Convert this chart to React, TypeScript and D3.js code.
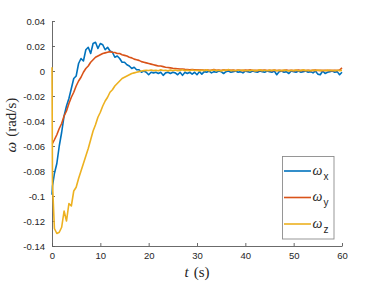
import { useRef, useEffect } from 'react';
import * as d3 from 'd3';

// sample times (s)
const time = [
  0, 0.1,
  0.5, 1, 1.5, 2, 2.5, 3, 3.5, 4, 4.5, 5,
  5.5, 6, 6.5, 7, 7.5, 8, 8.5, 9, 9.5, 10,
  10.5, 11, 11.5, 12, 12.5, 13, 13.5, 14, 14.5, 15,
  15.5, 16, 16.5, 17, 17.5, 18, 18.5, 19, 19.5, 20,
  20.5, 21, 21.5, 22, 22.5, 23, 23.5, 24, 24.5, 25,
  25.5, 26, 26.5, 27, 27.5, 28, 28.5, 29, 29.5, 30,
  30.5, 31, 31.5, 32, 32.5, 33, 33.5, 34, 34.5, 35,
  35.5, 36, 36.5, 37, 37.5, 38, 38.5, 39, 39.5, 40,
  40.5, 41, 41.5, 42, 42.5, 43, 43.5, 44, 44.5, 45,
  45.5, 46, 46.5, 47, 47.5, 48, 48.5, 49, 49.5, 50,
  50.5, 51, 51.5, 52, 52.5, 53, 53.5, 54, 54.5, 55,
  55.5, 56, 56.5, 57, 57.5, 58, 58.5, 59, 59.5, 60,
];

const omegaX = [
  -0.099, -0.092,
  -0.082, -0.074, -0.060, -0.049, -0.036, -0.028, -0.022, -0.014, -0.006, -0.004,
  0.006, 0.010, 0.008, 0.017, 0.019, 0.014, 0.022, 0.023, 0.018, 0.022,
  0.021, 0.017, 0.019, 0.016, 0.015, 0.011, 0.012, 0.010, 0.007, 0.007,
  0.005, 0.004, 0.002, 0.003, 0.001, 0.001, -0.001, 0.000, -0.001, -0.003,
  -0.001, -0.0015, -0.001, -0.002, -0.001, -0.0035, -0.0015, -0.001, -0.002, -0.001,
  -0.0015, -0.003, -0.001, -0.0035, -0.001, -0.002, -0.001, -0.0025, -0.001, -0.003,
  -0.0005, -0.0025, -0.0005, -0.001, 0, -0.0015, -0.0005, -0.001, 0, -0.0005,
  -0.002, -0.0005, 0, -0.001, -0.0005, 0, -0.001, -0.0005, -0.0015, 0,
  -0.0005, -0.001, 0, -0.0005, -0.001, 0, -0.0005, -0.001, 0, -0.0005,
  -0.001, 0, -0.003, -0.0005, 0, -0.001, -0.0005, -0.002, 0, -0.0005,
  -0.001, 0, -0.001, -0.0005, 0, -0.001, -0.0005, -0.0015, 0, -0.0025,
  -0.003, 0, -0.002, -0.001, -0.0005, 0, -0.001, -0.0005, -0.003, -0.001,
];

const omegaY = [
  -0.058, -0.058,
  -0.055, -0.051, -0.046, -0.042, -0.036, -0.032, -0.026, -0.021, -0.017, -0.012,
  -0.008, -0.005, -0.001, 0.002, 0.004, 0.007, 0.009, 0.011, 0.012, 0.013,
  0.014, 0.0145, 0.015, 0.0155, 0.015, 0.0148, 0.014, 0.014, 0.013, 0.0125,
  0.012, 0.011, 0.0105, 0.0095, 0.009, 0.0085, 0.0075, 0.007, 0.0065, 0.006,
  0.0055, 0.005, 0.0045, 0.004, 0.004, 0.0035, 0.003, 0.0028, 0.0025, 0.0022,
  0.002, 0.0018, 0.0016, 0.0015, 0.0013, 0.0012, 0.001, 0.0011, 0.0009, 0.001,
  0.0007, 0.001, 0.0006, 0.0009, 0.0005, 0.0008, 0.0012, 0.0006, 0.0008, 0.0004,
  0.0009, 0.0006, 0.001, 0.0005, 0.0007, 0.0004, 0.0008, 0.0006, 0.0003, 0.0007,
  0.0005, 0.0009, 0.0004, 0.0006, 0.0003, 0.0007, 0.0005, 0.0008, 0.0004, 0.0006,
  0.0003, 0.0007, 0.0004, 0.0006, 0.0003, 0.0005, 0.0008, 0.0004, 0.0006, 0.0003,
  0.0005, 0.0007, 0.0003, 0.0005, 0.0004, 0.0006, 0.0003, 0.0005, 0.0007, 0.0004,
  0.0005, 0.0003, 0.0006, 0.0004, 0.0005, 0.0003, 0.0006, 0.0004, 0.0008, 0.0025,
];

const omegaZ = [
  0.003, -0.09,
  -0.126, -0.130, -0.129, -0.125, -0.112, -0.120, -0.106, -0.108, -0.096, -0.093,
  -0.086, -0.080, -0.074, -0.068, -0.062, -0.055, -0.048, -0.043, -0.037, -0.033,
  -0.028, -0.024, -0.021, -0.017, -0.015, -0.012, -0.010, -0.008, -0.006, -0.005,
  -0.004, -0.003, -0.002, -0.0015, -0.001, -0.0005, 0, 0.0003, 0.0005, 0.0004,
  0.0008, 0.0003, 0.0006, 0.0002, 0.0009, 0.0004, 0.0006, 0.0001, 0.0007, 0.0003,
  0.0008, 0.0002, 0.0005, 0.001, 0.0003, 0.0006, 0.0002, 0.0008, 0.0004, 0.0006,
  0.0001, 0.0007, 0.0003, 0.0009, 0.0002, 0.0005, 0.0008, 0.0003, 0.0006, 0.0001,
  0.0007, 0.0004, 0.0012, 0.0003, 0.0006, 0.0002, 0.0008, 0.0004, 0.0007, 0.0002,
  0.0006, 0.0003, 0.0008, 0.0001, 0.0005, 0.0009, 0.0003, 0.0006, 0.0002, 0.0007,
  0.0004, 0.0008, 0.0002, 0.0006, 0.0003, 0.0007, 0.0004, 0.0001, 0.0006, 0.0003,
  0.0008, 0.0002, 0.0005, 0.0009, 0.0003, 0.0006, 0.0002, 0.0007, 0.0004, 0.0008,
  0.0003, 0.0006, 0.0002, 0.0007, 0.0004, 0.0005, 0.0002, 0.0006, 0.0003, 0.0005,
];

const xTicks = [0, 10, 20, 30, 40, 50, 60];
const yTicks = [-0.14, -0.12, -0.1, -0.08, -0.06, -0.04, -0.02, 0, 0.02, 0.04];

const seriesNames = ['x', 'y', 'z'];
const seriesColors = ['#0072BD', '#D95319', '#EDB120'];

const App = () => {
  const svgRef = useRef<SVGSVGElement>(null);

  useEffect(() => {
    const svg = d3.select(svgRef.current);
    svg.selectAll('*').remove();

    const margin = { top: 21, right: 35, bottom: 37, left: 52 };
    const width = 377;
    const height = 283;

    const x = d3.scaleLinear()
      .domain([0, 60])
      .range([margin.left, width - margin.right]);

    const y = d3.scaleLinear()
      .domain([-0.14, 0.04])
      .range([height - margin.bottom, margin.top]);

    const axisColor = '#262626';
    const tickFont = '"Liberation Sans", Arial, sans-serif';

    const xAxis = svg.append('g')
      .attr('transform', `translate(0,${height - margin.bottom})`)
      .call(d3.axisBottom(x).tickValues(xTicks).tickSizeInner(-3).tickSizeOuter(0).tickPadding(6));

    const yAxis = svg.append('g')
      .attr('transform', `translate(${margin.left},0)`)
      .call(d3.axisLeft(y).tickValues(yTicks).tickSizeInner(-3).tickSizeOuter(0).tickPadding(7)
        .tickFormat(d => String(+(+d).toFixed(2))));

    [xAxis, yAxis].forEach(g => {
      g.select('.domain').attr('stroke', '#5a5a5a').attr('stroke-width', 0.9);
      g.selectAll('.tick line').attr('stroke', '#5a5a5a').attr('stroke-width', 0.9);
      g.selectAll('.tick text')
        .attr('fill', axisColor)
        .style('font-family', tickFont)
        .style('font-size', '9.5px');
    });

    const line = d3.line<number>()
      .x((_, i) => x(time[i]))
      .y(d => y(d));

    [omegaX, omegaY, omegaZ].forEach((values, k) => {
      svg.append('path')
        .datum(values)
        .attr('fill', 'none')
        .attr('stroke', seriesColors[k])
        .attr('stroke-width', 1.6)
        .attr('stroke-linejoin', 'round')
        .attr('d', line);
    });

    // axis labels
    const serif = '"Liberation Serif", "DejaVu Serif", serif';
    const xLabel = svg.append('text')
      .attr('x', 197)
      .attr('y', 277)
      .attr('text-anchor', 'middle')
      .attr('fill', axisColor)
      .style('font-family', serif)
      .style('font-size', '15px');
    xLabel.append('tspan').attr('font-style', 'italic').text('t');
    xLabel.append('tspan').attr('dx', 5).text('(s)');

    const yLabel = svg.append('text')
      .attr('transform', 'translate(16,125) rotate(-90)')
      .attr('text-anchor', 'middle')
      .attr('fill', axisColor)
      .style('font-family', serif)
      .style('font-size', '15px');
    yLabel.append('tspan').attr('font-style', 'italic').text('ω');
    yLabel.append('tspan').attr('dx', 5).text('(rad/s)');

    // legend
    const legend = svg.append('g');
    legend.append('rect')
      .attr('x', 282.5)
      .attr('y', 156.5)
      .attr('width', 51.5)
      .attr('height', 82.5)
      .attr('fill', 'white')
      .attr('stroke', '#8c8c8c')
      .attr('stroke-width', 0.9);

    seriesNames.forEach((name, k) => {
      const ly = 171 + k * 26.5;
      legend.append('line')
        .attr('x1', 284)
        .attr('x2', 311)
        .attr('y1', ly)
        .attr('y2', ly)
        .attr('stroke', seriesColors[k])
        .attr('stroke-width', 1.6);
      const t = legend.append('text')
        .attr('x', 312.5)
        .attr('y', ly + 3.5)
        .attr('fill', axisColor)
        .style('font-family', serif)
        .style('font-size', '14px');
      t.append('tspan').attr('font-style', 'italic').text('ω');
      t.append('tspan')
        .attr('dx', 1)
        .attr('dy', 5)
        .style('font-family', tickFont)
        .style('font-size', '10px')
        .text(name);
    });
  }, []);

  return (
    <svg
      ref={svgRef}
      width={377}
      height={283}
      style={{ position: 'absolute', left: 0, top: 0, background: 'white' }}
    />
  );
};

export default App;
